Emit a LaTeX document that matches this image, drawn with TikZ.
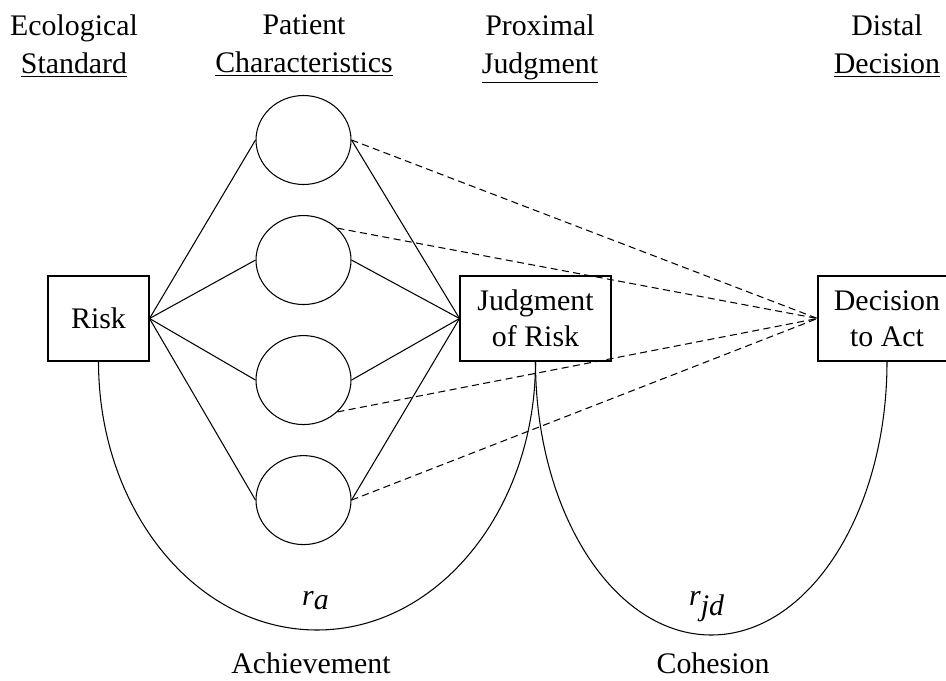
\documentclass[tikz,border=0pt]{standalone}
\usepackage{fontspec}
\setmainfont{Liberation Serif}
\usepackage{tikz}
\usetikzlibrary{positioning, shapes.geometric}

\begin{document}
\begin{tikzpicture}[
    x=0.02cm, y=-0.02cm, line width=0.6pt,
    box/.style={rectangle, draw, minimum width=#1, minimum height=1.7cm, inner sep=0pt, align=center, font=\fontsize{17}{20.5}\selectfont},
    cue/.style={ellipse, draw, minimum width=1.9cm, minimum height=1.78cm, inner sep=0pt},
    head/.style={anchor=north, inner sep=0pt, align=center, font=\fontsize{17}{21.6}\selectfont},
    lbl/.style={anchor=base, inner sep=0pt, font=\fontsize{17}{20.5}\selectfont},
    cuts/.style={dash pattern=on 4pt off 2.5pt},
]
    \useasboundingbox (0,0) rectangle (946,680);

    % column headings
    \node[head] (hstd) at (74,14.5) {Ecological\\\underline{Standard}};
    \node[head] (hcue) at (304,14.5) {Patient\\\underline{Characteristics}};
    \node[head] (hjdg) at (540,14.5) {Proximal\\\underline{Judgment}};
    \node[head] (hdec) at (887,14.5) {Distal\\\underline{Decision}};

    % boxes
    \node[box=2.02cm] (risk) at (98.5,318.5) {Risk};
    \node[box=3.02cm] (judge) at (535.5,318.5) {Judgment\\of Risk};
    \node[box=2.76cm] (act) at (887,318.5) {Decision\\to Act};

    % cues
    \node[cue] (c1) at (303.5,140) {};
    \node[cue, below=0.6cm of c1] (c2) {};
    \node[cue, below=0.6cm of c2] (c3) {};
    \node[cue, below=0.6cm of c3] (c4) {};

    \foreach \c in {c1,c2,c3,c4}
        \draw (risk.east) -- (\c.west) (\c.east) -- (judge.west);

    \draw[cuts] (c1.east) -- (act.west);
    \draw[cuts] (c2.north east) -- (act.west);
    \draw[cuts] (c3.south east) -- (act.west);
    \draw[cuts] (c4.east) -- (act.west);

    % correlations
    \coordinate (ralow) at (317,630);
    \coordinate (rjdlow) at (711.25,635);
    \draw (risk.south) .. controls +(0,148.6) and +(-120.7,0) .. (ralow)
        .. controls +(120.7,0) and +(0,148.6) .. (judge.south);
    \draw (judge.south) .. controls +(0,151.3) and +(-97.1,0) .. (rjdlow)
        .. controls +(97.1,0) and +(0,151.3) .. (act.south);

    \node[lbl] (ra) at (316,605) {\textit{r}$_{\textit{a}}$};
    \node[lbl] (rjd) at (707,605) {\textit{r}$_{\textit{jd}}$};
    \node[lbl] (ach) at (311,673) {Achievement};
    \node[lbl] (coh) at (713,673) {Cohesion};
\end{tikzpicture}
\end{document}
